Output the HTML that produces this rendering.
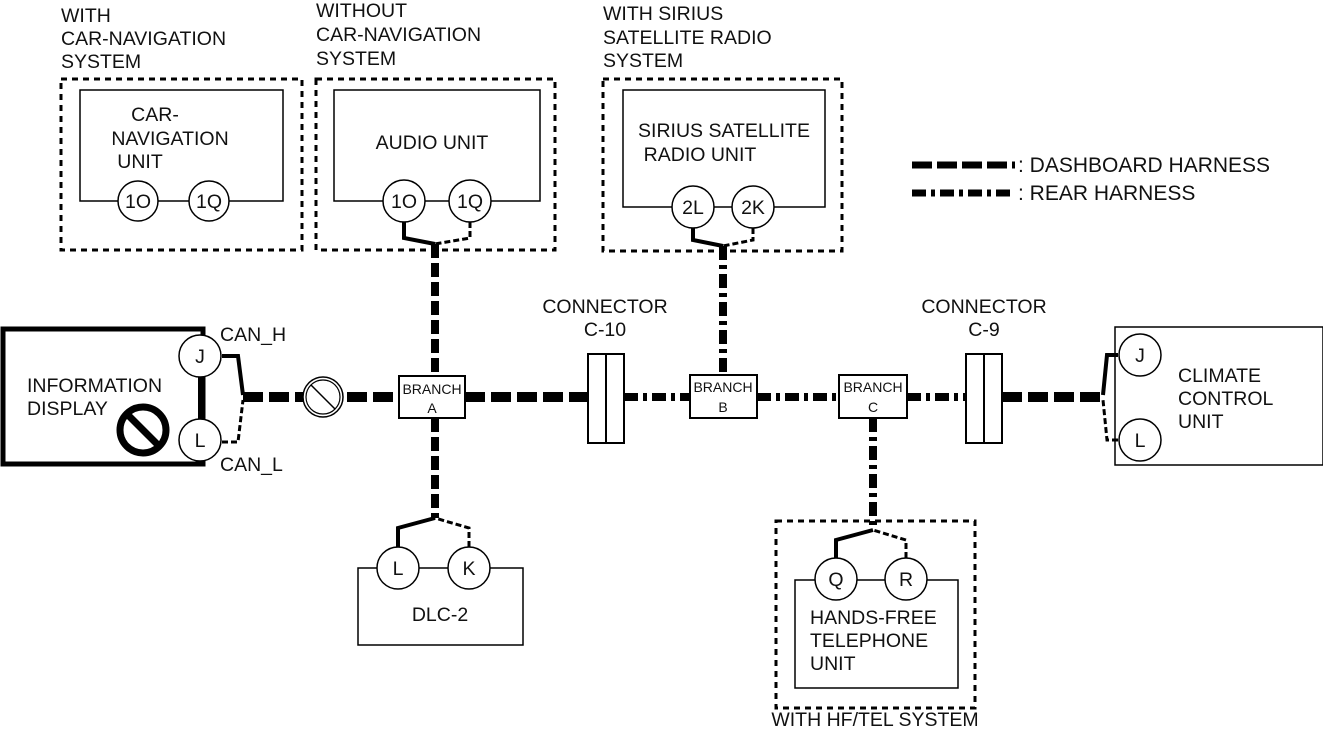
<!DOCTYPE html>
<html><head><meta charset="utf-8"><style>
html,body{margin:0;padding:0;background:#fff;}
svg{display:block;}
text{font-family:"Liberation Sans",Arial,sans-serif;font-size:19.5px;fill:#111;}
.s{font-size:14px;}
.lg{font-size:21px;}
</style></head><body>
<svg width="1323" height="734" viewBox="0 0 1323 734" xmlns="http://www.w3.org/2000/svg">
<g fill="none" stroke="#000">
<rect x="61" y="79" width="241" height="171" stroke-width="3" stroke-dasharray="6,5"/>
<rect x="316" y="79" width="239" height="171" stroke-width="3" stroke-dasharray="6,5"/>
<rect x="603" y="79" width="239" height="172" stroke-width="3" stroke-dasharray="6,5"/>
<rect x="776" y="521" width="199" height="187" stroke-width="3" stroke-dasharray="6,5"/>
<rect x="80" y="90" width="203" height="111" stroke-width="1.5"/>
<rect x="334" y="90" width="206" height="111" stroke-width="1.5"/>
<rect x="623" y="90" width="202" height="117" stroke-width="1.5"/>
<rect x="795" y="580" width="163" height="108" stroke-width="1.5"/>
<rect x="358" y="568" width="165" height="77" stroke-width="1.5"/>
<rect x="1115" y="327" width="208" height="138" stroke-width="1.5"/>
<rect x="3" y="329" width="200" height="135" stroke-width="5"/>
<line x1="200" y1="356" x2="200" y2="440" stroke-width="4"/>
<path d="M404,222 V238 L435,244" stroke-width="4"/>
<path d="M470,222 V238 L435,244" stroke-width="3" stroke-dasharray="6,3"/>
<path d="M693,228 V240 L723,246" stroke-width="4"/>
<path d="M753,228 V240 L723,246" stroke-width="3" stroke-dasharray="6,3"/>
<line x1="435" y1="244" x2="435" y2="376" stroke-width="8" stroke-dasharray="14,5"/>
<line x1="723" y1="246" x2="723" y2="375" stroke-width="8" stroke-dasharray="14,5,4,5"/>
<line x1="435" y1="418" x2="435" y2="518" stroke-width="8" stroke-dasharray="14,5"/>
<path d="M398,547 V528 L435,518" stroke-width="4"/>
<path d="M469,547 V528 L435,518" stroke-width="3" stroke-dasharray="6,3"/>
<line x1="873" y1="418" x2="873" y2="530" stroke-width="8" stroke-dasharray="14,5,4,5"/>
<path d="M836,558 V540 L873,530" stroke-width="4"/>
<path d="M906,558 V540 L873,530" stroke-width="3" stroke-dasharray="6,3"/>
<path d="M222,356 H238 L243,395" stroke-width="4"/>
<path d="M222,442 H238 L243,400" stroke-width="3" stroke-dasharray="6,3"/>
<line x1="243" y1="397" x2="399" y2="397" stroke-width="10" stroke-dasharray="20,6"/>
<line x1="465" y1="397" x2="588" y2="397" stroke-width="10" stroke-dasharray="20,6"/>
<line x1="624" y1="397" x2="690" y2="397" stroke-width="8" stroke-dasharray="14,5,4,5"/>
<line x1="757" y1="397" x2="839" y2="397" stroke-width="8" stroke-dasharray="14,5,4,5"/>
<line x1="907" y1="397" x2="966" y2="397" stroke-width="8" stroke-dasharray="14,5,4,5"/>
<line x1="1002" y1="397" x2="1103" y2="397" stroke-width="10" stroke-dasharray="20,6"/>
<path d="M1118,355 H1107 L1103,395" stroke-width="4"/>
<path d="M1118,440 H1107 L1103,400" stroke-width="3" stroke-dasharray="6,3"/>
<line x1="912" y1="165" x2="1015" y2="165" stroke-width="7" stroke-dasharray="20,5"/>
<line x1="912" y1="193" x2="1015" y2="193" stroke-width="7" stroke-dasharray="14,5,4,5"/>
</g>
<g fill="#fff" stroke="#000" stroke-width="1.5">
<circle cx="138" cy="201" r="20"/><circle cx="209" cy="201" r="20"/>
<circle cx="404" cy="201" r="21"/><circle cx="470" cy="201" r="21"/>
<circle cx="693" cy="207" r="21"/><circle cx="753" cy="207" r="21"/>
<circle cx="398" cy="568" r="21"/><circle cx="469" cy="568" r="21"/>
<circle cx="836" cy="579" r="21"/><circle cx="906" cy="579" r="21"/>
<circle cx="200" cy="356" r="21"/><circle cx="200" cy="440" r="21"/>
<circle cx="1140" cy="355" r="21"/><circle cx="1140" cy="440" r="21"/>
<rect x="399" y="376" width="66" height="42" stroke-width="2"/>
<rect x="690" y="375" width="67" height="43" stroke-width="2"/>
<rect x="839" y="375" width="68" height="43" stroke-width="2"/>
<rect x="588" y="354" width="36" height="89" stroke-width="2"/>
<rect x="966" y="354" width="36" height="89" stroke-width="2"/>
<circle cx="323" cy="397" r="20"/>
</g>
<g stroke="#000" fill="none">
<line x1="606" y1="354" x2="606" y2="443" stroke-width="2"/>
<line x1="984" y1="354" x2="984" y2="443" stroke-width="2"/>
<circle cx="323" cy="397" r="17" stroke-width="1.2"/>
<line x1="311" y1="385" x2="335" y2="409" stroke-width="1.5"/>
<circle cx="143" cy="430" r="23" stroke-width="7"/>
<line x1="128" y1="415" x2="158" y2="445" stroke-width="7"/>
</g>
<text x="61" y="22">WITH</text><text x="61" y="45">CAR-NAVIGATION</text><text x="61" y="68">SYSTEM</text>
<text x="316" y="17">WITHOUT</text><text x="316" y="41">CAR-NAVIGATION</text><text x="316" y="65">SYSTEM</text>
<text x="603" y="20">WITH SIRIUS</text><text x="603" y="44">SATELLITE RADIO</text><text x="603" y="67">SYSTEM</text>
<g text-anchor="middle">
<text x="155" y="121">CAR-</text><text x="170" y="145">NAVIGATION</text><text x="140" y="168">UNIT</text>
<text x="432" y="149">AUDIO UNIT</text>
<text x="724" y="137">SIRIUS SATELLITE</text><text x="700" y="161">RADIO UNIT</text>
<text x="138" y="208">1O</text><text x="209" y="208">1Q</text>
<text x="404" y="208">1O</text><text x="470" y="208">1Q</text>
<text x="693" y="214">2L</text><text x="753" y="214">2K</text>
<text x="398" y="575">L</text><text x="469" y="575">K</text>
<text x="836" y="586">Q</text><text x="906" y="586">R</text>
<text x="200" y="363">J</text><text x="200" y="447">L</text>
<text x="1140" y="362">J</text><text x="1140" y="447">L</text>
<text x="605" y="313">CONNECTOR</text><text x="605" y="336">C-10</text>
<text x="984" y="313">CONNECTOR</text><text x="984" y="336">C-9</text>
<text x="432" y="394" class="s">BRANCH</text><text x="432" y="413" class="s">A</text>
<text x="723" y="392" class="s">BRANCH</text><text x="723" y="412" class="s">B</text>
<text x="873" y="392" class="s">BRANCH</text><text x="873" y="412" class="s">C</text>
<text x="440" y="621">DLC-2</text>
<text x="875" y="726">WITH HF/TEL SYSTEM</text>
</g>
<text x="220" y="341">CAN_H</text><text x="220" y="471">CAN_L</text>
<text x="27" y="392">INFORMATION</text><text x="27" y="415">DISPLAY</text>
<text x="1178" y="382">CLIMATE</text><text x="1178" y="405">CONTROL</text><text x="1178" y="428">UNIT</text>
<text x="810" y="624">HANDS-FREE</text><text x="810" y="647">TELEPHONE</text><text x="810" y="670">UNIT</text>
<text x="1018" y="172" class="lg">: DASHBOARD HARNESS</text>
<text x="1018" y="200" class="lg">: REAR HARNESS</text>
</svg>
</body></html>
